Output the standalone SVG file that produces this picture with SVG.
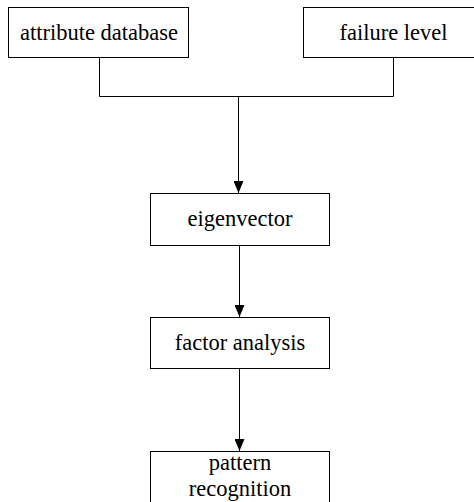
<svg xmlns="http://www.w3.org/2000/svg" width="474" height="502" viewBox="0 0 474 502">
  <defs>
    <style>
      .box { fill: #fff; stroke: #000; stroke-width: 1; }
      .lbl { font-family: "Liberation Serif", "Times New Roman", serif; font-size: 22.5px; fill: #000; text-anchor: middle; }
      .wire { fill: none; stroke: #000; stroke-width: 1; }
    </style>
    <marker id="arrow" markerWidth="12" markerHeight="10" refX="12" refY="5" orient="auto" markerUnits="userSpaceOnUse">
      <path d="M0,0 L12,5 L0,10 Z" fill="#000"/>
    </marker>
  </defs>

  <g id="connectors">
    <polyline class="wire" points="99.5,58 99.5,96.5 393.5,96.5 393.5,58"/>
    <line class="wire" x1="238.5" y1="96.5" x2="238.5" y2="193" marker-end="url(#arrow)"/>
    <line class="wire" x1="239.5" y1="246" x2="239.5" y2="317" marker-end="url(#arrow)"/>
    <line class="wire" x1="239.5" y1="369" x2="239.5" y2="451" marker-end="url(#arrow)"/>
  </g>

  <g id="attribute-database">
    <rect class="box" x="8.5" y="7.5" width="180" height="50"/>
    <text class="lbl" x="99" y="40">attribute database</text>
  </g>

  <g id="failure-level">
    <rect class="box" x="303.5" y="7.5" width="180" height="50"/>
    <text class="lbl" x="393.5" y="40">failure level</text>
  </g>

  <g id="eigenvector">
    <rect class="box" x="150.5" y="193.5" width="179" height="52"/>
    <text class="lbl" x="240" y="226">eigenvector</text>
  </g>

  <g id="factor-analysis">
    <rect class="box" x="150.5" y="317.5" width="179" height="51"/>
    <text class="lbl" x="240" y="350">factor analysis</text>
  </g>

  <g id="pattern-recognition">
    <rect class="box" x="150.5" y="451.5" width="179" height="52"/>
    <text class="lbl" x="240" y="470">pattern</text>
    <text class="lbl" x="240" y="496">recognition</text>
  </g>
</svg>
